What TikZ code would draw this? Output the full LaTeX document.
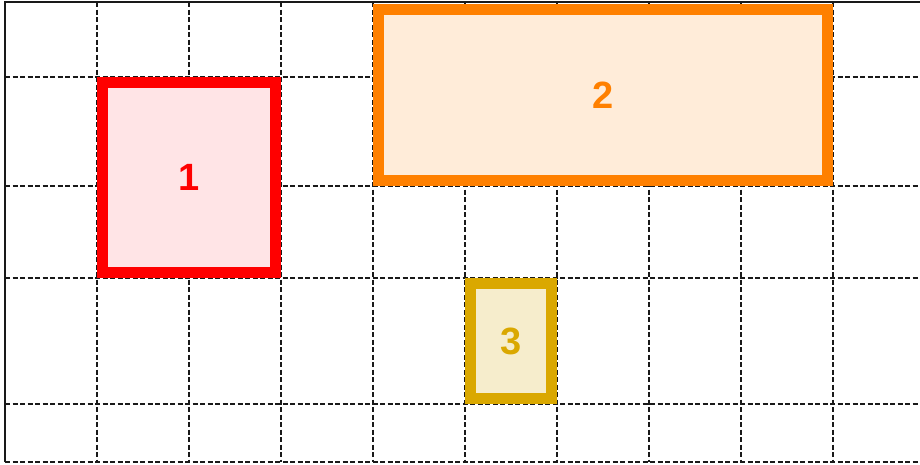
\documentclass[tikz,border=0pt]{standalone}
\usepackage{fontspec}
\setmainfont{Liberation Sans}
\definecolor{boxred}{HTML}{FF0000}
\definecolor{boxredfill}{HTML}{FFE4E6}
\definecolor{boxorange}{HTML}{FF8000}
\definecolor{boxorangefill}{HTML}{FFECD9}
\definecolor{boxgold}{HTML}{DAA800}
\definecolor{boxgoldfill}{HTML}{F6EDCC}
\tikzset{
  gridline/.style={black!90,line width=1.1pt,dash pattern=on 5pt off 2.5pt},
  region/.style={draw,line width=11pt,inner sep=0pt,font=\fontsize{38}{38}\selectfont\bfseries},
}
\begin{document}
\begin{tikzpicture}[x=1pt,y=-1pt]
    \useasboundingbox (0,0) rectangle (920,464);
    
    % Grid
    \foreach \x in {97,189,...,833}
        \draw[gridline] (\x,2) -- (\x,462);
    \foreach \y in {77,186,278,404,462}
        \draw[gridline] (5,\y) -- (920,\y);
    \draw[black!90,line width=1.3pt] (5,462) -- (5,2) -- (920,2);
    
    % Regions
    \node[region,color=boxred,fill=boxredfill,minimum width=173pt,minimum height=190pt] (r1) at (189,177.5) {1};
    \node[region,color=boxorange,fill=boxorangefill,minimum width=449pt,minimum height=171pt] (r2) at (603,95) {2};
    \node[region,color=boxgold,fill=boxgoldfill,minimum width=81pt,minimum height=115pt] (r3) at (511,341) {3};
\end{tikzpicture}
\end{document}
